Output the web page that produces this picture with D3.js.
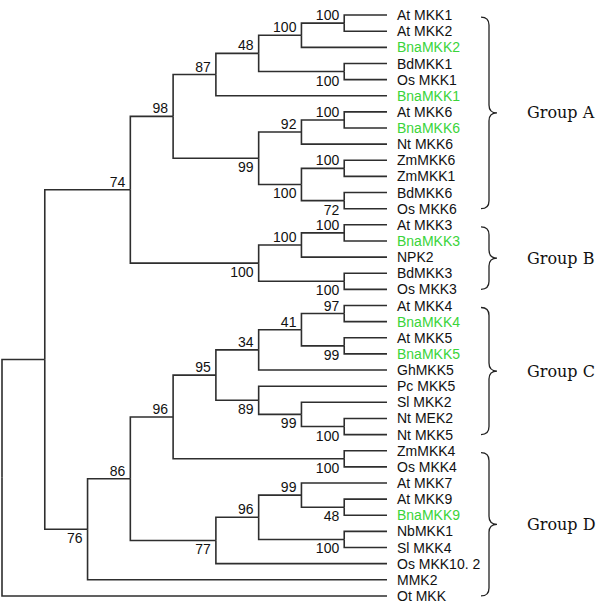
<!DOCTYPE html>
<html><head><meta charset="utf-8">
<script src="https://cdn.jsdelivr.net/npm/d3@7"></script>
<style>body{margin:0;background:#fff}</style>
</head><body>
<svg id="chart" width="600" height="609"></svg>
<script>
// Tree topology with bootstrap support values (Newick)
const groupA1 = "((((At MKK1,At MKK2)100,BnaMKK2)100,(BdMKK1,Os MKK1)100)48,BnaMKK1)87";
const groupA2 = "(((At MKK6,BnaMKK6)100,Nt MKK6)92,((ZmMKK6,ZmMKK1)100,(BdMKK6,Os MKK6)72)100)99";
const groupB  = "(((At MKK3,BnaMKK3)100,NPK2)100,(BdMKK3,Os MKK3)100)100";
const groupC  = "(((((At MKK4,BnaMKK4)97,(At MKK5,BnaMKK5)99)41,GhMKK5)34,(Pc MKK5,(Sl MKK2,(Nt MEK2,Nt MKK5)100)99)89)95,(ZmMKK4,Os MKK4)100)96";
const groupD  = "(((At MKK7,(At MKK9,BnaMKK9)48)99,(NbMKK1,Sl MKK4)100)96,Os MKK10. 2)77";
const newick = `((((${groupA1},${groupA2})98,${groupB})74,((${groupC},${groupD})86,MMK2)76),Ot MKK);`;

const highlightPrefix = "Bna";
const groupNames = ["Group A", "Group B", "Group C", "Group D"];
const groupFirst = ["At MKK1", "At MKK3", "At MKK4", "ZmMKK4"];
const groupLast  = ["Os MKK6", "Os MKK3", "Nt MKK5", "Ot MKK"];

function parseNewick(s) {
  let i = 0;
  function node() {
    const n = {};
    if (s[i] === "(") {
      i++; n.children = [node()];
      while (s[i] === ",") { i++; n.children.push(node()); }
      i++;
    }
    let lab = "";
    while (i < s.length && !",();".includes(s[i])) lab += s[i++];
    lab = lab.trim();
    if (n.children) { if (lab) n.support = lab; } else n.name = lab;
    return n;
  }
  return node();
}

const root = d3.hierarchy(parseNewick(newick));
d3.cluster().size([1, 1]).separation(() => 1)(root);

const yScale = d3.scaleLinear().domain([0, 1]).range([7, 604]);
const xScale = d3.scaleLinear().domain([0, 1]).range([2, 387]);

const svg = d3.select("#chart");
const green = "#3ad43a";

svg.append("g").selectAll("path").data(root.links()).join("path")
  .attr("fill", "none").attr("stroke", "#2e2e2e").attr("stroke-width", 1.6)
  .attr("d", d => `M${xScale(d.source.y)},${yScale(d.source.x)}V${yScale(d.target.x)}H${xScale(d.target.y)}`);

svg.append("g").selectAll("text").data(root.leaves()).join("text")
  .attr("x", xScale(1) + 10).attr("y", d => yScale(d.x)).attr("dy", "0.36em")
  .attr("font-family", "Liberation Sans").attr("font-size", 14)
  .attr("fill", d => d.data.name.startsWith(highlightPrefix) ? green : "#111")
  .text(d => d.data.name);

svg.append("g").selectAll("text").data(root.descendants().filter(d => d.data.support && d.parent)).join("text")
  .attr("x", d => xScale(d.y) - 5)
  .attr("y", d => d.parent.children[0] === d ? yScale(d.x) - 3 : yScale(d.x) + 14)
  .attr("text-anchor", "end")
  .attr("font-family", "Liberation Sans").attr("font-size", 14).attr("fill", "#111")
  .text(d => d.data.support);

const leafY = new Map(root.leaves().map(d => [d.data.name, yScale(d.x)]));
const x0 = 481, x1 = 489, x2 = 497, r = 8;
const groups = groupNames.map((name, k) => ({ name, top: leafY.get(groupFirst[k]) + 2, bottom: leafY.get(groupLast[k]) }));

svg.append("g").selectAll("path").data(groups).join("path")
  .attr("fill", "none").attr("stroke", "#222").attr("stroke-width", 1.3)
  .attr("d", g => {
    const m = (g.top + g.bottom) / 2;
    return `M${x0},${g.top}Q${x1},${g.top} ${x1},${g.top + r}L${x1},${m - r}Q${x1},${m} ${x2},${m}` +
           `Q${x1},${m} ${x1},${m + r}L${x1},${g.bottom - r}Q${x1},${g.bottom} ${x0},${g.bottom}`;
  });

svg.append("g").selectAll("text").data(groups).join("text")
  .attr("x", 527).attr("y", g => (g.top + g.bottom) / 2).attr("dy", "0.35em")
  .attr("font-family", "DejaVu Serif").attr("font-size", 16).attr("fill", "#111")
  .text(g => g.name);
</script>
</body></html>
